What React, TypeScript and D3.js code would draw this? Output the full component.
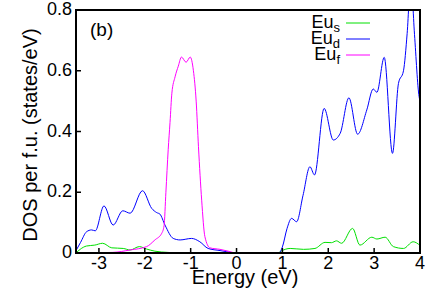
import React from 'react';
import * as d3 from 'd3';

// energy (eV), DOS (states/eV) pairs
const euS: [number, number][] = [
  [-3.5, 0.0], [-3.41, 0.012], [-3.27, 0.023], [-3.09, 0.026], [-2.92, 0.032],
  [-2.72, 0.017], [-2.47, 0.015], [-2.32, 0.01], [-2.12, 0.021], [-1.96, 0.013],
  [-1.78, 0.006], [-1.5, 0.002], [-1.2, 0.0], [0.9, 0.0], [0.98, 0.007],
  [1.17, 0.015], [1.46, 0.012], [1.71, 0.015], [1.93, 0.035], [2.07, 0.034],
  [2.18, 0.04], [2.29, 0.032], [2.53, 0.081], [2.69, 0.026], [2.95, 0.052],
  [3.06, 0.046], [3.24, 0.052], [3.42, 0.021], [3.64, 0.015], [3.85, 0.037],
  [4.0, 0.025],
];

const euD: [number, number][] = [
  [-3.5, 0.008], [-3.4, 0.035], [-3.27, 0.07], [-3.16, 0.076], [-3.08, 0.073],
  [-2.89, 0.155], [-2.69, 0.092], [-2.48, 0.139], [-2.32, 0.131], [-2.05, 0.205],
  [-1.85, 0.147], [-1.74, 0.133], [-1.67, 0.128], [-1.56, 0.092], [-1.38, 0.048],
  [-1.23, 0.043], [-0.98, 0.048], [-0.8, 0.037], [-0.62, 0.015], [-0.36, 0.008],
  [-0.21, 0.004], [0.0, 0.0], [0.92, 0.0], [1.0, 0.02], [1.1, 0.08], [1.2, 0.114],
  [1.31, 0.103], [1.45, 0.19], [1.6, 0.284], [1.7, 0.257], [1.91, 0.476],
  [2.11, 0.372], [2.26, 0.394], [2.45, 0.511], [2.64, 0.391], [2.84, 0.471],
  [2.98, 0.54], [3.06, 0.529], [3.22, 0.644], [3.4, 0.328], [3.53, 0.558],
  [3.64, 0.6], [3.72, 0.723], [3.8, 0.9], [3.88, 0.72], [3.98, 0.515], [4.0, 0.5],
];

const euF: [number, number][] = [
  [-3.5, 0.0], [-2.7, 0.002], [-2.32, 0.01], [-1.96, 0.021], [-1.78, 0.043],
  [-1.63, 0.065], [-1.58, 0.09], [-1.54, 0.2], [-1.49, 0.34], [-1.45, 0.43],
  [-1.41, 0.526], [-1.34, 0.58], [-1.27, 0.615], [-1.2, 0.645], [-1.1, 0.628],
  [-1.01, 0.645], [-0.94, 0.6], [-0.88, 0.5], [-0.83, 0.35], [-0.76, 0.174],
  [-0.69, 0.054], [-0.58, 0.017], [-0.36, 0.012], [-0.18, 0.006], [0.0, 0.0],
  [4.0, 0.0],
];

const xTicks = [-3, -2, -1, 0, 1, 2, 3, 4];
const yTicks = [0, 0.2, 0.4, 0.6, 0.8];

const series = [
  { name: 's', data: euS, color: '#00e000' },
  { name: 'd', data: euD, color: '#0000ff' },
  { name: 'f', data: euF, color: '#ff00ff' },
];

const W = 436;
const H = 294;
const left = 76, right = 420, top = 10, bottom = 253;
const font = '"Liberation Sans", Arial, Helvetica, sans-serif';

export default function App() {
  const x = d3.scaleLinear().domain([-3.5, 4]).range([left, right]);
  const y = d3.scaleLinear().domain([0, 0.8]).range([bottom, top]);

  const line = d3.line<[number, number]>()
    .x(d => x(d[0]))
    .y(d => y(d[1]))
    .curve(d3.curveMonotoneX);

  return (
    <svg width={W} height={H} style={{ position: 'absolute', left: 0, top: 0, background: '#fff' }}
      fontFamily={font}>
      <defs>
        <clipPath id="plot">
          <rect x={left} y={top} width={right - left} height={bottom - top} />
        </clipPath>
      </defs>

      <g clipPath="url(#plot)">
        {series.map(s => (
          <path key={s.name} d={line(s.data) || ''} fill="none" stroke={s.color} strokeWidth={1} />
        ))}
      </g>

      {/* ticks */}
      {xTicks.map(t => (
        <g key={'x' + t}>
          <line x1={x(t)} x2={x(t)} y1={bottom} y2={bottom - 5} stroke="#000" strokeWidth={1.5} />
          <text x={x(t)} y={269} fontSize={18} textAnchor="middle">{t}</text>
        </g>
      ))}
      {yTicks.map(t => (
        <g key={'y' + t}>
          <line x1={left} x2={left + 5} y1={y(t)} y2={y(t)} stroke="#000" strokeWidth={1.5} />
          <text x={72} y={y(t) + 5} fontSize={18} textAnchor="end">{t}</text>
        </g>
      ))}

      <rect x={left} y={top} width={right - left} height={bottom - top} fill="none" stroke="#000" strokeWidth={2} />

      <text x={245} y={284} fontSize={20} textAnchor="middle">Energy (eV)</text>
      <text transform="translate(37,135) rotate(-90)" fontSize={20} textAnchor="middle">DOS per f.u. (states/eV)</text>
      <text x={90} y={36} fontSize={19}>(b)</text>

      {series.map((s, i) => {
        const ly = 23 + i * 16;
        return (
          <g key={'leg' + s.name}>
            <text x={340} y={ly + 5} fontSize={18} textAnchor="end">
              Eu<tspan fontSize={13} dy={4}>{s.name}</tspan>
            </text>
            <line x1={346} x2={370} y1={ly} y2={ly} stroke={s.color} strokeWidth={1} />
          </g>
        );
      })}
    </svg>
  );
}
